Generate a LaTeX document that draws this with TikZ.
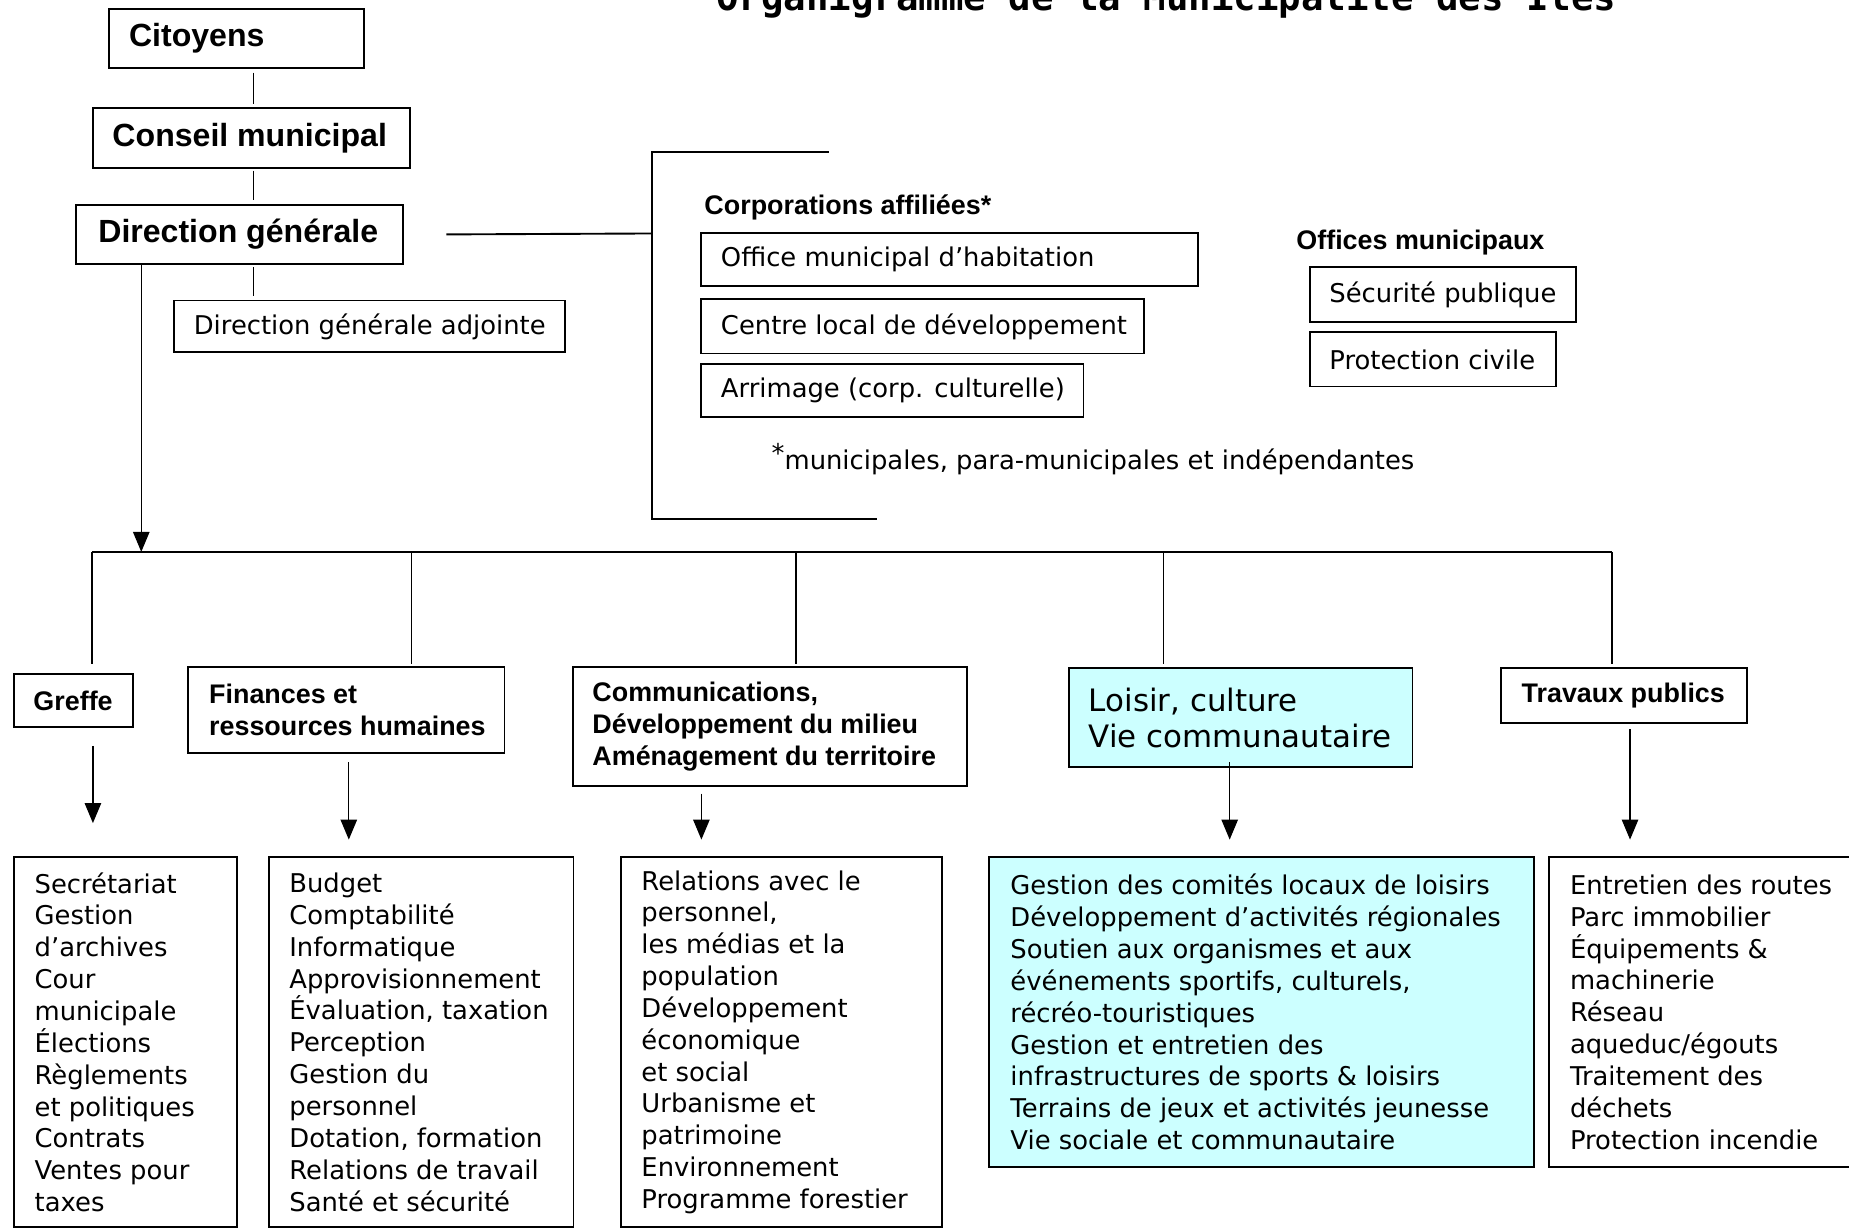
\documentclass[tikz,border=0pt]{standalone}
\usepackage{fontspec}
\usepackage{xcolor}
\setmainfont{DejaVu Sans}
\newfontfamily\titrefont{DejaVu Sans Mono}
\newfontfamily\grasfont{Liberation Sans}
\usetikzlibrary{arrows.meta}
\definecolor{cyanpale}{HTML}{CCFFFF}

\begin{document}
\begin{tikzpicture}[x=0.5pt,y=0.5pt,yscale=-1,xscale=1,
  boite/.style={draw, line width=0.8pt, anchor=north west, inner sep=0pt},
  texte/.style={anchor=west, align=left, inner xsep=8.5pt, inner ysep=0pt, font=\fontsize{10.95pt}{13.5pt}\selectfont},
  gros/.style={texte, font=\grasfont\bfseries\fontsize{13.6pt}{16pt}\selectfont},
  entete/.style={texte, font=\grasfont\bfseries\fontsize{11.4pt}{13.5pt}\selectfont},
  grand/.style={texte, font=\fontsize{13.1pt}{15.5pt}\selectfont},
  trait/.style={line width=0.5pt},
  epais/.style={line width=0.8pt},
  fleche/.style={line width=0.5pt, -{Triangle[length=8.5pt,width=7pt]}}]

\useasboundingbox (0,0) rectangle (1568,1042);
\fill[white] (0,0) rectangle (1568,1042);
\clip (0,0) rectangle (1568,1042);

\draw (607,8.5) node (titre) [anchor=base west, inner sep=0pt, font=\titrefont\bfseries\fontsize{15.85pt}{18pt}\selectfont] {Organigramme de la Municipalité des Îles};

\draw (92,7) node (citoyens) [boite, minimum width=108pt, minimum height=25pt, label={[gros]west:{Citoyens}}] {};

\draw (78,91) node (conseil) [boite, minimum width=134.5pt, minimum height=25.5pt, label={[gros]west:{Conseil municipal}}] {};

\draw (64,173) node (dirgen) [boite, minimum width=138.5pt, minimum height=25pt, label={[gros, inner xsep=9.5pt]west:{Direction générale}}] {};

\draw (147,254) node (adjointe) [boite, minimum width=165.5pt, minimum height=22pt, label={[texte]west:{Direction générale adjointe}}] {};

\draw (597,176) node (corporations) [entete, inner xsep=0pt] {Corporations affiliées*};

\draw (594,197) node (habitation) [boite, minimum width=210.5pt, minimum height=22.5pt, label={[texte]west:{Office municipal d’habitation}}] {};

\draw (594,253) node (cld) [boite, minimum width=187.5pt, minimum height=23pt, label={[texte]west:{Centre local de développement}}] {};

\draw (594,308) node (arrimage) [boite, minimum width=162pt, minimum height=22.5pt, label={[texte]west:{Arrimage (corp. culturelle)}}] {};

\draw (654,398) node (note) [texte, anchor=base west, inner xsep=0pt] {\raisebox{3pt}{*}municipales, para-municipales et indépendantes};

\draw (1099,206) node (offices) [entete, inner xsep=0pt] {Offices municipaux};

\draw (1110,226) node (securite) [boite, minimum width=113pt, minimum height=23pt, label={[texte]west:{Sécurité publique}}] {};

\draw (1110,281) node (protection) [boite, minimum width=104.5pt, minimum height=23pt, label={[texte]west:{Protection civile}}] {};

\draw (11,571) node (greffe) [boite, minimum width=50.5pt, minimum height=22.5pt, label={[entete]west:{Greffe}}] {};

\draw (159,565) node (finances) [boite, minimum width=134pt, minimum height=36.5pt, label={[entete, inner xsep=9pt]west:{Finances et\\ressources humaines}}] {};

\draw (485,565) node (comm) [boite, minimum width=167pt, minimum height=50.5pt, label={[entete]west:{Communications,\\Développement du milieu\\Aménagement du territoire}}] {};

\draw (906,566) node (loisir) [boite, fill=cyanpale, minimum width=145.5pt, minimum height=42pt, label={[grand]west:{Loisir, culture\\Vie communautaire}}] {};

\draw (1272,566) node (travaux) [boite, minimum width=104.5pt, minimum height=23pt, label={[entete, inner xsep=9pt]west:{Travaux publics}}] {};

\draw (11,726) node (lgreffe) [boite, minimum width=94.5pt, minimum height=157pt, label={[texte, inner xsep=9pt]west:{Secrétariat\\Gestion\\d’archives\\Cour\\municipale\\Élections\\Règlements\\et politiques\\Contrats\\Ventes pour\\taxes}}] {};

\draw (227.5,726) node (lfin) [boite, minimum width=129pt, minimum height=157pt, label={[texte, inner xsep=8.75pt]west:{Budget\\Comptabilité\\Informatique\\Approvisionnement\\Évaluation, taxation\\Perception\\Gestion du\\personnel\\Dotation, formation\\Relations de travail\\Santé et sécurité}}] {};

\draw (526,726) node (lcomm) [boite, minimum width=136pt, minimum height=157pt, label={[texte, inner xsep=8.8pt]west:{Relations avec le\\personnel,\\les médias et la\\population\\Développement\\économique\\et social\\Urbanisme et\\patrimoine\\Environnement\\Programme forestier}}] {};

\draw (838,726) node (lloisir) [boite, fill=cyanpale, minimum width=231pt, minimum height=131.5pt, label={[texte, inner xsep=9.25pt]west:{Gestion des comités locaux de loisirs\\Développement d’activités régionales\\Soutien aux organismes et aux\\événements sportifs, culturels,\\récréo-touristiques\\Gestion et entretien des\\infrastructures de sports \& loisirs\\Terrains de jeux et activités jeunesse\\Vie sociale et communautaire}}] {};

\draw (1313,726) node (ltravaux) [boite, minimum width=135pt, minimum height=131.5pt, label={[texte, inner xsep=9pt]west:{Entretien des routes\\Parc immobilier\\Équipements \&\\machinerie\\Réseau\\aqueduc/égouts\\Traitement des\\déchets\\Protection incendie}}] {};

\coordinate (dos) at (553,198);
\coordinate (crochetH) at (703,129);
\coordinate (crochetB) at (744,440);

\coordinate (b1) at (78,468);
\coordinate (b2) at (349,468);
\coordinate (b3) at (675,468);
\coordinate (b4) at (987,468);
\coordinate (b5) at (1367,468);

\draw[trait, shorten <=1.5pt, shorten >=1.5pt] ([xshift=7pt]citoyens.south) -- ([xshift=7pt]citoyens.south |- conseil.north);

\draw[trait, shorten <=0.5pt, shorten >=1.5pt] ([xshift=0.75pt]conseil.south) -- ([xshift=0.75pt]conseil.south |- dirgen.north);

\draw[trait, shorten <=1pt, shorten >=1.5pt] ([xshift=5.75pt]dirgen.south) -- ([xshift=5.75pt]dirgen.south |- adjointe.north);

\draw[epais] ([xshift=18pt]dirgen.east) -- (dos);

\draw[epais] (crochetH) -- (crochetH -| dos) -- (crochetB -| dos) -- (crochetB);

\draw[fleche] ([xshift=-41.75pt]dirgen.south) -- ([xshift=-41.75pt]dirgen.south |- b1);

\draw[epais] (b1) -- (b5);

\draw[trait, shorten >=4pt] (b1) -- (b1 |- greffe.north);

\draw[trait, shorten >=1pt] (b2) -- (b2 |- finances.north);

\draw[trait, shorten >=1pt] (b3) -- (b3 |- comm.north);

\draw[trait, shorten >=1.5pt] (b4) -- (b4 |- loisir.north);

\draw[trait, shorten >=1.5pt] (b5) -- (b5 |- travaux.north);

\draw[fleche, shorten <=7.5pt, shorten >=14pt] ([xshift=8.25pt]greffe.south) -- ([xshift=8.25pt]greffe.south |- lgreffe.north);

\draw[fleche, shorten <=3.5pt, shorten >=7pt] ([xshift=1pt]finances.south) -- ([xshift=1pt]finances.south |- lfin.north);

\draw[fleche, shorten <=2.75pt, shorten >=7pt] ([xshift=-29pt]comm.south) -- ([xshift=-29pt]comm.south |- lcomm.north);

\draw[fleche, shorten <=-2.5pt, shorten >=7pt] ([xshift=-4.75pt]loisir.south) -- ([xshift=-4.75pt]loisir.south |- lloisir.north);

\draw[fleche, shorten <=2.5pt, shorten >=7pt] ([xshift=2.5pt]travaux.south) -- ([xshift=2.5pt]travaux.south |- ltravaux.north);

\end{tikzpicture}
\end{document}
